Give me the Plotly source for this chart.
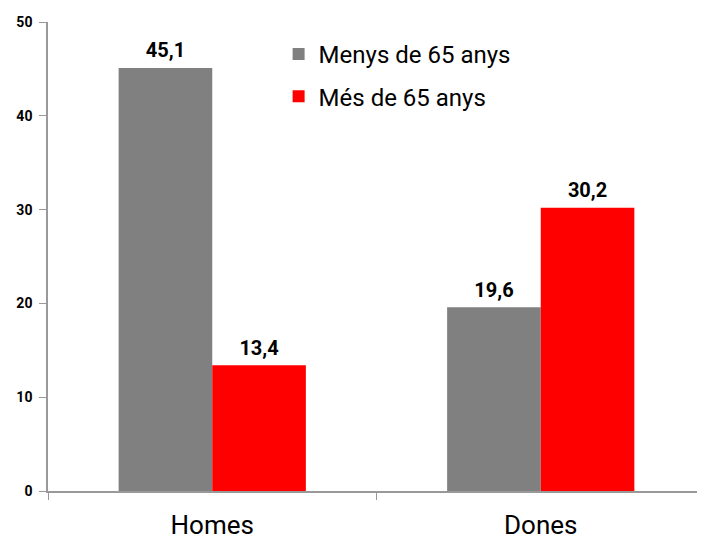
import plotly.graph_objects as go

categories = ["Homes", "Dones"]
menys_65 = [45.1, 19.6]
mes_65 = [13.4, 30.2]
series_names = ["Menys de 65 anys", "Més de 65 anys"]
y_ticks = [0, 10, 20, 30, 40, 50]

def fmt(v):
    return f"{v:.1f}".replace(".", ",")

label_tpl = "<span style='font-size:20px'>%{text}</span><br> "

fig = go.Figure()
fig.add_trace(go.Bar(
    x=categories, y=menys_65, name=series_names[0],
    marker=dict(color="#808080", line=dict(width=0)),
    text=[fmt(v) for v in menys_65], texttemplate=label_tpl, textposition="outside",
    textfont=dict(family="Roboto", size=5, color="black", weight="bold"),
    cliponaxis=False, legendgroup="a",
))
fig.add_trace(go.Bar(
    x=categories, y=mes_65, name=series_names[1],
    marker=dict(color="#ff0000", line=dict(width=0)),
    text=[fmt(v) for v in mes_65], texttemplate=label_tpl, textposition="outside",
    textfont=dict(family="Roboto", size=5, color="black", weight="bold"),
    cliponaxis=False, legendgroup="b",
))

fig.update_layout(
    width=697, height=533,
    margin=dict(l=40, r=0, t=14, b=50),
    plot_bgcolor="white", paper_bgcolor="white",
    barmode="group", bargap=0.43, bargroupgap=0,
    font=dict(family="Roboto", color="black"),
    uniformtext=dict(mode=False),
    showlegend=True,
    legend=dict(x=0.351, y=0.979, xanchor="left", yanchor="top",
                font=dict(family="Roboto", size=24, color="black"),
                bgcolor="rgba(0,0,0,0)", tracegroupgap=8,
                itemwidth=30),
    xaxis=dict(
        automargin=False,
        showline=True, linecolor="#999999", linewidth=1.5,
        ticks="outside", tickson="boundaries", ticklen=7, tickcolor="#999999",
        tickfont=dict(family="Roboto", size=26, color="black"),
        ticklabelstandoff=10,
        showgrid=False,
    ),
    yaxis=dict(
        automargin=False,
        range=[0, 50], tickvals=y_ticks,
        showline=True, linecolor="#999999", linewidth=1.5,
        ticks="outside", ticklen=7, tickcolor="#999999",
        tickfont=dict(family="Roboto", size=14, color="black", weight="bold"),
        ticklabelstandoff=4,
        showgrid=False, zeroline=False,
    ),
)

fig.write_html("out.html")
